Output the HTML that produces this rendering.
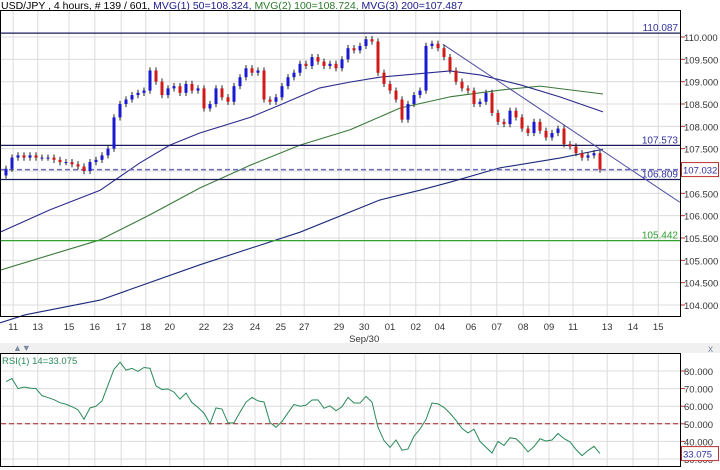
<!DOCTYPE html>
<html><head><meta charset="utf-8"><style>
body{margin:0;background:#fff;width:720px;height:470px;overflow:hidden;font-family:"Liberation Sans",sans-serif}
svg{display:block}
text{font-family:"Liberation Sans",sans-serif}
</style></head><body>
<svg id="c" width="720" height="470" viewBox="0 0 720 470">
<rect x="0" y="0" width="720" height="470" fill="#fff"/>
<rect x="0" y="343" width="720" height="10" fill="#f0f0f0"/>
<text x="1" y="9" font-size="10.5"><tspan fill="#000">USD/JPY , 4 hours, # 139 / 601, </tspan><tspan fill="#1a1a8c">MVG(1) 50=108.324, </tspan><tspan fill="#2a7a2a">MVG(2) 100=108.724, </tspan><tspan fill="#1a1a8c">MVG(3) 200=107.487</tspan></text>
<g id="grid"></g>
<g id="price"></g>
<g id="rsi"></g>
<text x="13" y="351" font-size="9" fill="#7a8aa0">▲▼</text>
<text x="708" y="352" font-size="10" fill="#7a8aa0">x</text>
<rect x="0.5" y="10.5" width="680" height="306" fill="none" stroke="#000"/>
<rect x="0.5" y="353.5" width="680" height="113" fill="none" stroke="#000"/>
</svg>
<script>
const dateLabels=["11","13","15","16","17","18","20","22","23","24","25","27","29","30","01","02","04","06","07","08","09","11","13","14","15"];
const dateBars=[1.2,5.3,10.5,14.8,19.2,23.3,27.3,33,37,41.5,45.8,49.7,55.5,59.7,64,68.3,72.3,77.5,81.8,86.2,90.5,94.5,100.2,104.5,108.7];
const closes=[107.05,107.3,107.35,107.3,107.35,107.3,107.3,107.3,107.25,107.2,107.2,107.15,107.1,107.0,107.2,107.25,107.35,107.5,108.2,108.5,108.6,108.7,108.75,108.8,109.25,109.0,108.7,108.85,108.9,108.75,108.95,108.8,108.85,108.4,108.5,108.85,108.65,108.55,108.9,109.1,109.3,109.2,109.25,108.6,108.55,108.65,108.9,109.1,109.2,109.4,109.35,109.55,109.45,109.35,109.4,109.3,109.5,109.75,109.7,109.8,109.95,109.9,109.2,108.95,108.8,108.6,108.15,108.5,108.7,108.8,109.8,109.85,109.75,109.55,109.25,109.0,108.85,108.8,108.5,108.55,108.75,108.3,108.1,108.05,108.35,108.2,107.95,107.85,108.1,107.9,107.75,107.85,107.95,107.6,107.55,107.4,107.3,107.35,107.4,107.032];
const firstOpen=106.9;
const ma50Idx=[-1,7.3,15.7,22.3,27.3,32.3,40.7,45.7,52.3,57.3,62.3,74,79,85.7,92.3,99.5];
const ma50Val=[105.63,106.13,106.57,107.18,107.58,107.85,108.2,108.48,108.86,108.99,109.1,109.24,109.15,108.93,108.66,108.324];
const ma100Idx=[-1,15.7,24,32.3,40.7,49,57.3,65.7,74,82.3,89,99.5];
const ma100Val=[104.78,105.46,106.02,106.62,107.13,107.58,107.92,108.41,108.66,108.81,108.9,108.724];
const ma200Idx=[-1,3.2,15.7,32.3,49,62.3,69,74,82.3,92.3,99.5];
const ma200Val=[103.6,103.78,104.11,104.9,105.63,106.35,106.57,106.75,107.07,107.29,107.487];
const priceTicks=[110,109.5,109,108.5,108,107.5,107,106.5,106,105.5,105,104.5,104];
const levelVals=[110.087,107.573,106.809];
const supportVal=105.442;
const trendStart=[72.8,109.84];
const trendEnd=[112.3,106.3];
const rsiVals=[74,75.7,70,70.9,70.3,70,66,64.9,63.7,62,61.1,59.7,58,52.6,59,60,63,72,81,85,80.5,81.5,79.8,82,81.5,71.5,69.5,69.8,68,64,67.5,62,59.3,56,50,59,58.4,50.5,50.5,56.6,62.3,65,63,62.4,50.7,48,51.3,56.3,61,60,60.6,63.5,63.6,58.8,60.2,57.4,59.7,65,61.8,61.8,65.6,62.3,48,40.5,36.6,40.8,35,35.7,43,47,52.4,61.8,61.3,59.3,56,52,47.4,44.8,46.9,40,36.7,33.4,40,37.7,42.1,41.5,38.2,34,37.1,41.5,40.2,40.8,44.5,41.6,39.7,35.4,31.9,34.8,37.2,33.075];
const rsiTicks=[80,70,60,50,40,30];

const NS="http://www.w3.org/2000/svg";
const X=i=>6+6*i;
const Y=p=>37+(110-p)*44.667;
const RY=v=>371+(80-v)*1.76;
function mk(tag,attrs,parent){const e=document.createElementNS(NS,tag);for(const k in attrs)e.setAttribute(k,attrs[k]);parent.appendChild(e);return e;}
const G=document.getElementById('grid'),P=document.getElementById('price'),R=document.getElementById('rsi');

dateBars.forEach((b,i)=>{
  const x=X(b);
  const l=mk('line',{x1:x,x2:x,y1:11,y2:316,stroke:'#dcdcdc','stroke-width':1},G);
  
  
  const l2=mk('line',{x1:x,x2:x,y1:354,y2:466,stroke:'#dcdcdc','stroke-width':1},G);
  
  
  const t=mk('text',{x:x,y:330,'font-size':9.5,fill:'#333','text-anchor':'middle'},G);
  t.textContent=dateLabels[i];
  
  
});
const sep=mk('text',{x:X(59.7),y:342,'font-size':9.5,fill:'#333','text-anchor':'middle'},G);
sep.textContent='Sep/30';



priceTicks.forEach(p=>{
  const y=Y(p);
  const l=mk('line',{x1:1,x2:680,y1:y,y2:y,stroke:'#dcdcdc'},G);
  
  
  mk('line',{x1:680,x2:685,y1:y,y2:y,stroke:'#c03030'},G);
  const t=mk('text',{x:684,y:y+4,'font-size':9.5,fill:'#333'},G);
  t.textContent=p.toFixed(3);
  
  
});
rsiTicks.forEach(v=>{
  const y=RY(v);
  const l=mk('line',{x1:1,x2:680,y1:y,y2:y,stroke:'#dcdcdc'},G);
  
  
  mk('line',{x1:680,x2:685,y1:y,y2:y,stroke:'#c03030'},G);
  const t=mk('text',{x:684,y:y+4,'font-size':9.5,fill:'#333'},G);
  t.textContent=v.toFixed(3);
  
  
});

function poly(idx,val,color,name){
  const pts=idx.map((b,i)=>X(b)+','+Y(val[i])).join(' ');
  const e=mk('polyline',{points:pts,fill:'none',stroke:color,'stroke-width':1.1,'stroke-linejoin':'round'},P);
  
  
}
poly(ma200Idx,ma200Val,'#1a2a7a','ma200-line');
poly(ma100Idx,ma100Val,'#3a7a3a','ma100-line');
poly(ma50Idx,ma50Val,'#2a2a8c','ma50-line');

levelVals.forEach(v=>{
  const y=Y(v);
  const l=mk('line',{x1:1,x2:680,y1:y,y2:y,stroke:'#1a1a5c','stroke-width':1.2},P);
  
  
  const t=mk('text',{x:678,y:y-2,'font-size':10,fill:'#3030a0','text-anchor':'end'},P);
  t.textContent=v.toFixed(3);
  
  
});
{
  const y=Y(supportVal);
  const l=mk('line',{x1:1,x2:680,y1:y,y2:y,stroke:'#30a030','stroke-width':1.2},P);
  
  
  const t=mk('text',{x:678,y:y-2,'font-size':10,fill:'#30a030','text-anchor':'end'},P);
  t.textContent=supportVal.toFixed(3);
  
  
}
const last=closes[closes.length-1];
{
  const y=Y(last);
  const l=mk('line',{x1:1,x2:680,y1:y,y2:y,stroke:'#6a6ac0','stroke-width':1.5,'stroke-dasharray':'5,3'},P);
  
  
  const r=mk('rect',{x:681.5,y:y-7,width:37,height:14,fill:'#fff',stroke:'#c03030'},P);
  
  
  const t=mk('text',{x:683,y:y+4,'font-size':9.5,fill:'#3030a0'},P);
  t.textContent=last.toFixed(3);
  
  
}
{
  const x1=X(trendStart[0]),y1=Y(trendStart[1]),x2=X(trendEnd[0]),y2=Y(trendEnd[1]);
  const l=mk('line',{x1:x1,y1:y1,x2:x2,y2:y2,stroke:'#4a4aa0','stroke-width':1},P);
  
  
}

closes.forEach((c,i)=>{
  const o=i===0?firstOpen:closes[i-1];
  const x=X(i);
  const hi=Math.max(o,c)+0.07,lo=Math.min(o,c)-0.07;
  const col=c>=o?'#1a1ad0':'#d01a1a';
  const w=mk('line',{x1:x,x2:x,y1:Y(hi),y2:Y(lo),stroke:'#222','stroke-width':1},P);
  
  
  const top=Y(Math.max(o,c)),bot=Y(Math.min(o,c));
  const b=mk('rect',{x:x-1.5,y:top,width:3,height:Math.max(1,bot-top),fill:col},P);
  
  
});

{
  const y=RY(50);
  const l=mk('line',{x1:1,x2:680,y1:y,y2:y,stroke:'#a02020','stroke-width':1,'stroke-dasharray':'5,3'},R);
  
  
  const pts=rsiVals.map((v,i)=>X(i)+','+RY(v)).join(' ');
  const p=mk('polyline',{points:pts,fill:'none',stroke:'#2a8a5a','stroke-width':1},R);
  
  
  const lv=rsiVals[rsiVals.length-1];
  const ry=RY(lv);
  const r=mk('rect',{x:681.5,y:ry-7,width:37,height:14,fill:'#fff',stroke:'#c03030'},R);
  
  
  const t=mk('text',{x:683,y:ry+4,'font-size':9.5,fill:'#3030a0'},R);
  t.textContent=lv.toFixed(3);
  
  
  const h=mk('text',{x:2,y:364,'font-size':9.5,fill:'#2a8a5a'},R);
  h.textContent='RSI(1) 14='+lv.toFixed(3);
  
  
}
</script>
</body></html>
